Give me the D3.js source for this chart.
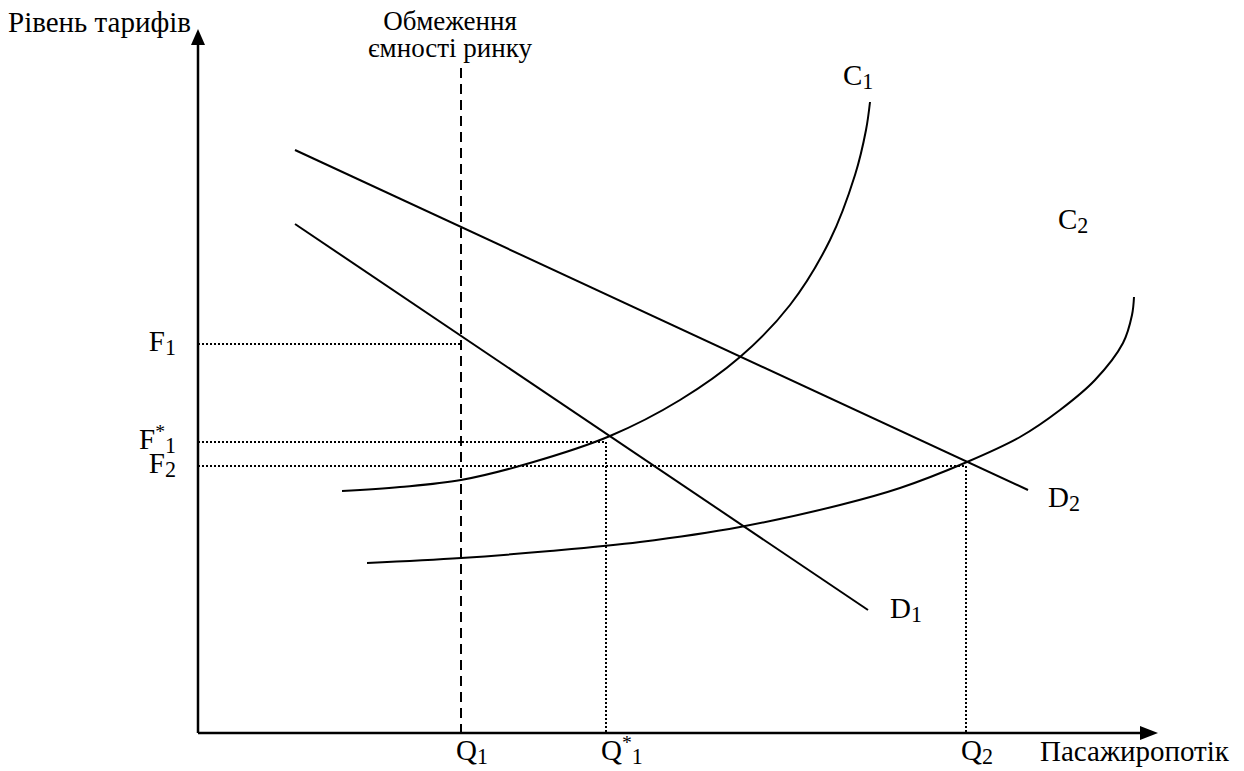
<!DOCTYPE html>
<html>
<head>
<meta charset="utf-8">
<script src="https://cdn.jsdelivr.net/npm/d3@7"></script>
<style>
  body { margin: 0; background: #fff; }
  svg { display: block; }
  text { font-family: "Liberation Serif", "Times New Roman", serif; fill: #000; }
</style>
</head>
<body>
<svg id="chart" width="1244" height="771"></svg>
<script>
// Diagram units: passenger flow (x) and tariff level (y)
const xMax = 96, yMax = 70.4;

// Market-capacity limit and equilibrium quantities
const qCap = 26.3;      // Q1
const qStar1 = 40.8;    // Q*1
const q2 = 76.8;        // Q2
const capTop = 66.5;    // top of the capacity limit line

// Tariff levels
const f1 = 38.9;        // F1
const fStar1 = 29.1;    // F*1
const f2 = 26.7;        // F2

// Demand lines (start, end)
const demand1 = [[9.7, 50.9], [67.0, 12.3]];
const demand2 = [[9.7, 58.3], [83.0, 24.3]];

// Supply (cost) curves
const supply1 = [[14.4, 24.2], [20.2, 24.6], [26.3, 25.3], [33.2, 27.0], [41.2, 29.7],
                 [48.2, 33.3], [54.2, 37.6], [59.2, 42.8], [63.2, 49.3], [65.7, 55.8],
                 [66.8, 60.3], [67.2, 63.1]];
const supply2 = [[16.9, 17.0], [26.3, 17.5], [35.2, 18.2], [44.2, 19.1], [54.2, 20.6],
                 [64.2, 22.8], [70.2, 24.5], [76.9, 27.1], [82.2, 29.6], [86.2, 32.3],
                 [89.7, 35.3], [92.5, 39.0], [93.4, 41.8], [93.6, 43.6]];

// Labels
const qLabels = [
  { base: "Q", sup: "", sub: "1", value: qCap },
  { base: "Q", sup: "*", sub: "1", value: qStar1 },
  { base: "Q", sup: "", sub: "2", value: q2 }
];
const fLabels = [
  { base: "F", sup: "", sub: "1", value: f1 },
  { base: "F", sup: "*", sub: "1", value: fStar1 },
  { base: "F", sup: "", sub: "2", value: f2 }
];
const curveLabels = [
  { base: "C", sub: "1", at: [64.5, 64.8] },
  { base: "C", sub: "2", at: [86.0, 50.4] },
  { base: "D", sub: "1", at: [69.2, 11.5] },
  { base: "D", sub: "2", at: [85.0, 22.6] }
];
const yTitle = "Рівень тарифів";
const xTitle = "Пасажиропотік";
const capTitle = ["Обмеження", "ємності ринку"];

const svg = d3.select("#chart");
const x = d3.scaleLinear().domain([0, xMax]).range([198, 1158]);
const y = d3.scaleLinear().domain([0, yMax]).range([733, 29]);

const FS = 29;
const line = d3.line().x(d => x(d[0])).y(d => y(d[1]));
const smooth = d3.line().x(d => x(d[0])).y(d => y(d[1])).curve(d3.curveCatmullRom.alpha(0.5));

// Dotted guide lines
const dotted = svg.append("g").attr("fill", "none").attr("stroke", "#000")
  .attr("stroke-width", 2).attr("stroke-dasharray", "2,2");
dotted.append("path").attr("d", line([[0, f1], [qCap, f1]]));
dotted.append("path").attr("d", line([[0, fStar1], [qStar1, fStar1], [qStar1, 0]]));
dotted.append("path").attr("d", line([[0, f2], [q2, f2], [q2, 0]]));

// Market capacity limit
svg.append("path").attr("d", line([[qCap, capTop], [qCap, 0]]))
  .attr("fill", "none").attr("stroke", "#000").attr("stroke-width", 2)
  .attr("stroke-dasharray", "10,6");

// Demand and supply
const curves = svg.append("g").attr("fill", "none").attr("stroke", "#000").attr("stroke-width", 2);
curves.append("path").attr("d", line(demand1));
curves.append("path").attr("d", line(demand2));
curves.append("path").attr("d", smooth(supply1));
curves.append("path").attr("d", smooth(supply2));

// Axes with arrowheads
const axes = svg.append("g");
axes.append("path").attr("d", line([[0, 0], [0, yMax - 1.5]]))
  .attr("stroke", "#000").attr("stroke-width", 2.5).attr("fill", "none");
axes.append("path").attr("d", line([[0, 0], [xMax - 1.6, 0]]))
  .attr("stroke", "#000").attr("stroke-width", 2.5).attr("fill", "none");
axes.append("path")
  .attr("d", `M${x(0)},${y(yMax)} L${x(0) - 7},${y(yMax) + 16} L${x(0) + 7},${y(yMax) + 16} Z`)
  .attr("fill", "#000");
axes.append("path")
  .attr("d", `M${x(xMax)},${y(0)} L${x(xMax) - 18},${y(0) - 7} L${x(xMax) - 18},${y(0) + 7} Z`)
  .attr("fill", "#000");

// Symbol with optional superscript and subscript
function symbol(sel, d) {
  sel.append("tspan").text(d.base);
  if (d.sup) {
    sel.append("tspan").attr("font-size", FS * 0.68).attr("dy", -11).text(d.sup);
    sel.append("tspan").attr("font-size", FS * 0.76).attr("dy", 15).text(d.sub);
  } else {
    sel.append("tspan").attr("font-size", FS * 0.76).attr("dy", 4).text(d.sub);
  }
}

const labels = svg.append("g").attr("font-size", FS);
labels.selectAll(".ql").data(qLabels).join("text")
  .attr("class", "ql")
  .attr("x", d => x(d.value) - 5).attr("y", 760)
  .each(function (d) { symbol(d3.select(this), d); });
labels.selectAll(".fl").data(fLabels).join("text")
  .attr("class", "fl")
  .attr("x", x(0) - 22).attr("y", d => y(d.value) + 7)
  .attr("text-anchor", "end")
  .each(function (d) { symbol(d3.select(this), d); });
labels.selectAll(".cl").data(curveLabels).join("text")
  .attr("class", "cl")
  .attr("x", d => x(d.at[0])).attr("y", d => y(d.at[1]))
  .each(function (d) { symbol(d3.select(this), d); });

labels.append("text").attr("x", 8).attr("y", 32).text(yTitle);
labels.append("text").attr("x", 1040).attr("y", 761).text(xTitle);
labels.selectAll(".cap").data(capTitle).join("text")
  .attr("class", "cap")
  .attr("font-size", 27)
  .attr("x", 450).attr("y", (d, i) => 30 + i * 27)
  .attr("text-anchor", "middle").text(d => d);
</script>
</body>
</html>
